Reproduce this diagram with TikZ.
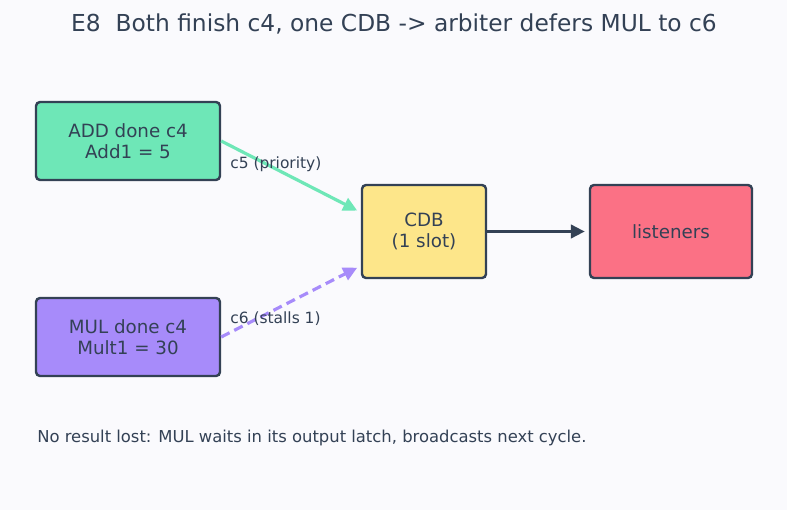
\documentclass[tikz,border=0pt]{standalone}
\usepackage{fontspec}
\setmainfont{DejaVu Sans}
\usetikzlibrary{arrows.meta,calc}
\definecolor{ink}{HTML}{334155}
\definecolor{addgreen}{HTML}{6EE7B7}
\definecolor{mulviolet}{HTML}{A78BFA}
\definecolor{cdbyellow}{HTML}{FDE68A}
\definecolor{lisred}{HTML}{FB7185}
\definecolor{paper}{HTML}{FAFAFD}
\begin{document}
\begin{tikzpicture}[x=0.75pt,y=-0.75pt,
  every node/.style={text=ink,font=\fontsize{13.7}{16}\selectfont},
  unit/.style={draw=ink,line width=1.8pt,rounded corners=3pt,align=center,inner sep=0pt,minimum width=138pt,minimum height=58.5pt},
  bus/.style={draw=ink,line width=1.8pt,rounded corners=3pt,align=center,inner sep=0pt,minimum height=69.75pt},
  lbl/.style={anchor=west,inner sep=0pt,font=\fontsize{11.6}{13}\selectfont},
  flow/.style={line width=2.4pt,-{Triangle[length=10.5pt,width=10pt]},shorten >=3pt}]
\fill[paper] (0,0) rectangle (787,510);
% title
\node[font=\fontsize{17.5}{21}\selectfont] (title) at (394,24) {E8\ \ Both finish c4, one CDB -> arbiter defers MUL to c6};
% units and bus
\node[unit,fill=addgreen] (add) at (128,141) {ADD done c4\\Add1 = 5};
\node[unit,fill=mulviolet] (mul) at (128,337) {MUL done c4\\Mult1 = 30};
\node[bus,fill=cdbyellow,minimum width=93pt] (cdb) at (424,231.5) {CDB\\(1 slot)};
\node[bus,fill=lisred,minimum width=121.5pt] (lis) at (671,231.5) {listeners};
\coordinate (cdbin1) at ($(cdb.north west)!0.3!(cdb.south west)$);
\coordinate (cdbin2) at ($(cdb.north west)!0.86!(cdb.south west)$);
% arbitration
\draw[flow,addgreen] (add.east) -- (cdbin1);
\draw[flow,mulviolet,dash pattern=on 7pt off 4pt] (mul.east) -- (cdbin2);
\draw[flow,ink] (cdb.east) -- (lis.west);
\node[lbl] (prio) at (230,164) {c5 (priority)};
\node[lbl] (stall) at (230,319) {c6 (stalls 1)};
\node[anchor=west,inner sep=0pt,font=\fontsize{12.3}{14}\selectfont] (note) at (37,438) {No result lost: MUL waits in its output latch, broadcasts next cycle.};
\end{tikzpicture}
\end{document}
